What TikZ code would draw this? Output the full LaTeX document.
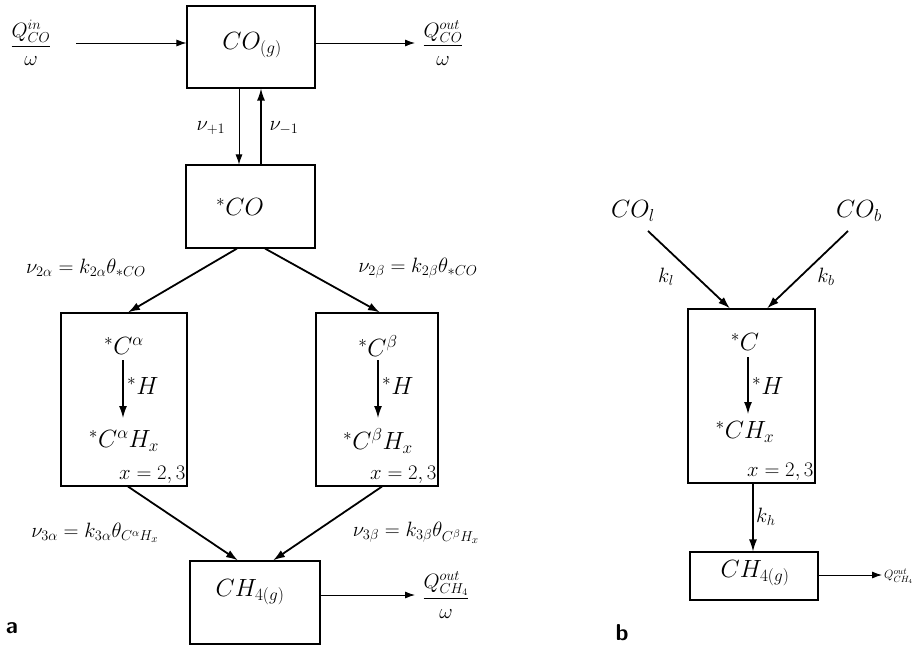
\documentclass[tikz,border=0pt]{standalone}
\usepackage{amsmath}
\usetikzlibrary{arrows.meta}
\begin{document}
\begin{tikzpicture}[x=1pt,y=-1pt,
 box/.style={draw,line width=1.1pt,inner sep=0pt},
 arr/.style={-{Latex[length=10pt,width=7pt]},line width=0.9pt},
 thk/.style={-{Latex[length=12pt,width=8pt]},line width=1.8pt},
 bt/.style={font=\fontsize{24}{28}\selectfont,inner sep=0pt},
 lb/.style={font=\fontsize{22}{26}\selectfont,inner sep=0pt},
 fr/.style={font=\fontsize{20}{24}\selectfont,inner sep=0pt},
 sm/.style={font=\fontsize{13}{15}\selectfont,inner sep=0pt},
 pl/.style={font=\fontsize{23}{26}\selectfont\sffamily\bfseries,inner sep=0pt},
 ]
\useasboundingbox (0,0) rectangle (918,656);
% ---------- panel a ----------
\node[box,minimum width=128pt,minimum height=82pt] (cog) at (251,47) {};
\node[bt] (cogt) at (252,45) {$CO_{(g)}$};
\node[box,minimum width=129pt,minimum height=83pt] (sco) at (250.5,206.5) {};
\node[bt] (scot) at (240,207) {$^{*}CO$};
\node[box,minimum width=126pt,minimum height=173pt] (ba) at (124,399.5) {};
\node[box,minimum width=122pt,minimum height=173pt] (bb) at (377,399.5) {};
\node[box,minimum width=130pt,minimum height=83pt] (ch4) at (255,602.5) {};
\node[bt] (ch4t) at (250,592) {$CH_{4(g)}$};

\node[fr] (qin) at (31,43) {$\dfrac{Q^{in}_{CO}}{\omega}$};
\node[fr] (qout) at (443,43) {$\dfrac{Q^{out}_{CO}}{\omega}$};
\coordinate (qins) at (76,43);
\coordinate (qoute) at (415,43);
\draw[arr] (qins) -- (cog.west |- qins);
\draw[arr] (cog.east |- qoute) -- (qoute);

\draw[arr] ([xshift=-12pt]cog.south) -- ([xshift=-11.5pt]sco.north);
\draw[thk,line width=1.3pt] ([xshift=10.5pt]sco.north) -- ([xshift=10pt]cog.south);
\node[lb] (n1) at (211,128) {$\nu_{+1}$};
\node[lb] (n2) at (284,128) {$\nu_{-1}$};

\draw[thk] ([xshift=-13.5pt]sco.south) -- ([xshift=4pt]ba.north);
\draw[thk] ([xshift=14.5pt]sco.south) -- ([xshift=3pt]bb.north);
\node[lb] (l2a) at (86,268) {$\nu_{2\alpha}=k_{2\alpha}\theta_{*CO}$};
\node[lb] (l2b) at (418,268) {$\nu_{2\beta}=k_{2\beta}\theta_{*CO}$};

% alpha box contents
\node[bt] (ca) at (124,346) {$^{*}C^{\alpha}$};
\node[bt] (cha) at (124,441) {$^{*}C^{\alpha}H_{x}$};
\draw[thk,line width=1.3pt] (123,360) coordinate (aa1) -- (123,418) coordinate (aa2);
\node[bt,anchor=west] (ha) at (127,386) {$^{*}H$};
\node[lb,anchor=south east] (xa) at ([xshift=-2pt,yshift=3pt]ba.south east) {$x=2,3$};
% beta box contents
\node[bt] (cb) at (378,346) {$^{*}C^{\beta}$};
\node[bt] (chb) at (378,441) {$^{*}C^{\beta}H_{x}$};
\draw[thk,line width=1.3pt] (378,360) coordinate (bb1) -- (378,418) coordinate (bb2);
\node[bt,anchor=west] (hb) at (382,386) {$^{*}H$};
\node[lb,anchor=south east] (xb) at ([xshift=-2pt,yshift=3pt]bb.south east) {$x=2,3$};

\draw[thk] ([xshift=4pt]ba.south) -- ([xshift=-17pt]ch4.north);
\draw[thk] ([xshift=5pt]bb.south) -- ([xshift=18pt]ch4.north);
\node[lb] (l3a) at (95,533) {$\nu_{3\alpha}=k_{3\alpha}\theta_{C^{\alpha}H_x}$};
\node[lb] (l3b) at (416,533) {$\nu_{3\beta}=k_{3\beta}\theta_{C^{\beta}H_x}$};

\coordinate (ch4o) at (415,595);
\draw[arr] (ch4.east |- ch4o) -- (ch4o);
\node[fr] (qch4) at (446,595) {$\dfrac{Q^{out}_{CH_4}}{\omega}$};
\node[pl] (pa) at (12,628) {a};

% ---------- panel b ----------
\node[bt] (col) at (633,211) {$CO_{l}$};
\node[bt] (cob) at (859,211) {$CO_{b}$};
\node[box,minimum width=127pt,minimum height=174pt] (bx) at (751.5,396) {};
\coordinate (s1) at (648,231);
\coordinate (s2) at (848,231);
\draw[thk] (s1) -- ([xshift=-21.5pt]bx.north);
\draw[thk] (s2) -- ([xshift=15.5pt]bx.north);
\node[lb] (kl) at (666,277) {$k_{l}$};
\node[lb] (kb) at (826,277) {$k_{b}$};
\node[bt] (cc) at (745,342) {$^{*}C$};
\draw[thk,line width=1.3pt] (748,357) coordinate (cb1) -- (748,414) coordinate (cb2);
\node[bt,anchor=west] (hc) at (752,386) {$^{*}H$};
\node[bt] (chx) at (745,432) {$^{*}CH_{x}$};
\node[lb,anchor=south east] (xc) at ([xshift=-2pt,yshift=3pt]bx.south east) {$x=2,3$};
\node[box,minimum width=128pt,minimum height=48pt] (ch4b) at (754,576) {};
\node[bt] (ch4bt) at (755,573) {$CH_{4(g)}$};
\draw[thk,line width=1.3pt] ([xshift=1.5pt]bx.south) -- ([xshift=-1pt]ch4b.north);
\node[lb,anchor=west] (kh) at (756,517) {$k_{h}$};
\coordinate (qb) at (882,575);
\draw[arr] (ch4b.east |- qb) -- (qb);
\node[sm,anchor=west] (qbl) at (884,576) {$Q^{out}_{CH_4}$};
\node[pl] (pb) at (622,633) {b};
\end{tikzpicture}
\end{document}
